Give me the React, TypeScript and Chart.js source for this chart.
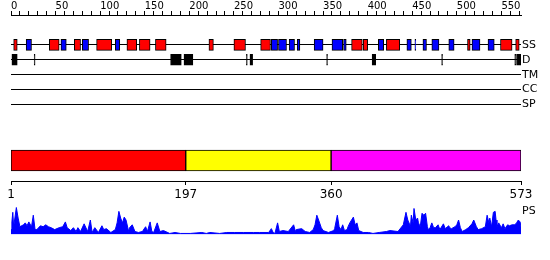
import React, { useEffect, useRef } from 'react';
import { Chart, registerables } from 'chart.js';

Chart.register(...registerables);

// ---- data ----
const SEQ_START = 1;
const SEQ_END = 573;
const RULER_MAX = 572;
const RULER_STEP = 10;
const RULER_LABEL_STEP = 50;
const TRACKS = ['SS', 'D', 'TM', 'CC', 'SP'];

// secondary structure: helices (red) and strands (blue), residue ranges
const HELIX: [number, number][] = [
  [3, 7], [43, 54], [71, 78], [96, 113], [130, 141], [144, 156], [162, 174],
  [222, 227], [250, 263], [280, 291], [382, 394], [395, 400], [421, 436],
  [512, 515], [549, 562], [566, 570],
];
const STRAND: [number, number][] = [
  [17, 23], [56, 62], [80, 87], [117, 122], [292, 299], [300, 309], [312, 318],
  [321, 324], [340, 350], [360, 372], [373, 376], [412, 418], [444, 449],
  [453, 454], [462, 466], [472, 480], [491, 497], [517, 526], [535, 542],
];
// disorder segments
const DISORDER: [number, number][] = [
  [1, 7], [26, 27], [179, 191], [194, 204], [264, 265], [268, 271],
  [354, 355], [405, 409], [483, 484], [565, 566], [567, 573],
];
// domains
const DOMAIN_TICKS = [1, 197, 360, 573];
const DOMAINS: [number, number][] = [[1, 197], [197, 360], [360, 573]];

// PS profile: [residue, score]
const PS_PROFILE: [number, number][] = [
  [1, 5], [2, 13], [3, 23], [4, 8], [7, 28], [9, 17], [11, 8], [15, 10], [17, 12], [19, 9],
  [21, 13], [24, 8], [26, 20], [28, 5], [30, 5], [34, 9], [37, 8], [40, 10], [43, 8], [46, 7],
  [50, 5], [55, 7], [59, 8], [62, 13], [64, 7], [68, 4], [71, 7], [74, 3], [76, 7], [79, 3],
  [83, 11], [87, 3], [90, 15], [92, 2], [95, 7], [99, 2], [103, 9], [105, 5], [108, 6], [113, 2],
  [118, 5], [120, 12], [122, 24], [124, 17], [126, 12], [128, 18], [130, 15], [133, 3], [134, 7],
  [137, 10], [140, 3], [144, 2], [148, 3], [149, 4], [152, 8], [154, 3], [157, 13], [159, 3],
  [161, 2], [165, 12], [168, 3], [172, 4], [179, 1], [185, 2], [191, 1], [202, 1], [215, 2],
  [220, 1], [224, 2], [235, 1], [243, 2], [252, 2], [262, 2], [273, 2], [280, 2], [290, 2],
  [293, 6], [295, 2], [297, 1], [300, 12], [302, 3], [306, 4], [312, 3], [318, 10], [320, 3],
  [321, 5], [327, 6], [331, 3], [336, 2], [340, 5], [342, 10], [344, 20], [346, 15], [349, 7],
  [351, 4], [357, 2], [363, 4], [364, 6], [367, 20], [369, 8], [371, 5], [373, 10], [375, 4],
  [378, 5], [379, 8], [381, 12], [385, 18], [387, 10], [389, 12], [391, 4], [396, 2], [402, 2],
  [407, 1], [414, 2], [422, 3], [426, 4], [435, 3], [441, 10], [444, 23], [446, 15], [447, 13],
  [449, 8], [450, 20], [452, 12], [453, 27], [455, 15], [457, 17], [458, 12], [460, 8], [462, 22],
  [464, 20], [466, 22], [468, 8], [469, 5], [471, 7], [473, 12], [475, 7], [477, 7], [480, 10],
  [482, 5], [486, 11], [488, 6], [492, 9], [493, 7], [495, 6], [499, 8], [501, 10], [503, 15],
  [505, 7], [507, 3], [511, 5], [514, 7], [518, 11], [520, 15], [523, 8], [525, 5], [529, 6],
  [533, 8], [535, 20], [537, 12], [538, 17], [540, 8], [542, 23], [544, 24], [545, 15], [546, 8],
  [548, 12], [551, 7], [553, 11], [555, 6], [558, 10], [560, 9], [563, 10], [566, 10], [568, 12],
  [570, 15], [572, 13], [573, 8],
];
const PS_MAX = 30;
const PS_LABEL = 'PS';
const PS_LABEL_AT = 24;

const FONT = "'DejaVu Sans', sans-serif";

export default function App() {
  const refA = useRef<HTMLCanvasElement>(null);
  const refB = useRef<HTMLCanvasElement>(null);
  const refC = useRef<HTMLCanvasElement>(null);

  useEffect(() => {
    document.body.style.margin = '0';
    Chart.defaults.font.family = FONT;
    Chart.defaults.color = '#000';
    const base: any = {
      responsive: false,
      animation: false,
      devicePixelRatio: 1,
      events: [],
      plugins: { legend: { display: false }, tooltip: { enabled: false } },
    };
    const rulerTicks: number[] = [];
    for (let v = 0; v <= RULER_MAX; v += RULER_STEP) rulerTicks.push(v);

    const boxSet = (ranges: [number, number][], track: number, color: string) => ({
      data: ranges.map(([s, e]) => ({ x: [s, e], y: track })),
      backgroundColor: color,
      borderColor: '#000',
      borderWidth: 1,
      borderSkipped: false,
      barThickness: 11,
      grouped: false,
    });

    const a = new Chart(refA.current!, {
      type: 'bar',
      data: {
        datasets: [
          boxSet(HELIX, 0, '#ff0000'),
          boxSet(STRAND, 0, '#0000ff'),
          boxSet(DISORDER, 1, '#000000'),
        ] as any,
      },
      options: {
        ...base,
        indexAxis: 'y',
        layout: { padding: { left: 11, right: 0, top: 0, bottom: 7 } },
        scales: {
          x: {
            type: 'linear',
            position: 'top',
            min: 0,
            max: RULER_MAX,
            offset: false,
            afterFit: (s: any) => { s.height = 15; },
            afterBuildTicks: (s: any) => { s.ticks = rulerTicks.map((v) => ({ value: v })); },
            ticks: {
              autoSkip: false,
              maxRotation: 0,
              align: 'start',
              padding: 0,
              font: { size: 10, lineHeight: 1 },
              callback: (v: any) => (Number(v) % RULER_LABEL_STEP === 0 ? String(v) : ''),
            },
            grid: { display: true, offset: false, drawOnChartArea: false, drawTicks: true, tickLength: 4, color: '#000' },
            border: { display: true, color: '#000' },
          },
          y: {
            type: 'linear',
            position: 'right',
            reverse: true,
            offset: false,
            min: -2,
            max: 4.53,
            afterFit: (s: any) => { s.width = 29; },
            afterBuildTicks: (s: any) => { s.ticks = TRACKS.map((_, i) => ({ value: i })); },
            ticks: {
              padding: 1,
              font: { size: 11 },
              callback: (v: any) => TRACKS[Number(v)] ?? '',
            },
            grid: { display: true, offset: false, drawOnChartArea: true, drawTicks: false, color: '#000' },
            border: { display: false },
          },
        },
      } as any,
    });

    const domainColors = ['#ff0000', '#ffff00', '#ff00ff'];
    const b = new Chart(refB.current!, {
      type: 'bar',
      data: {
        labels: ['domains'],
        datasets: DOMAINS.map((d, i) => ({
          data: [d],
          backgroundColor: domainColors[i],
          borderColor: '#000',
          borderWidth: 1,
          borderSkipped: false,
          barThickness: 21,
          grouped: false,
        })) as any,
      },
      options: {
        ...base,
        indexAxis: 'y',
        layout: { padding: { left: 11, right: 29, top: 0, bottom: 0 } },
        scales: {
          x: {
            type: 'linear',
            position: 'bottom',
            min: SEQ_START,
            max: SEQ_END,
            afterFit: (s: any) => { s.height = 24; },
            afterBuildTicks: (s: any) => { s.ticks = DOMAIN_TICKS.map((v) => ({ value: v })); },
            ticks: {
              autoSkip: false,
              maxRotation: 0,
              padding: 3,
              font: { size: 12 },
              callback: (v: any) => String(v),
            },
            grid: { display: true, drawOnChartArea: false, drawTicks: true, tickLength: 4, color: '#000' },
            border: { display: true, color: '#000' },
          },
          y: { type: 'category', display: false },
        },
      } as any,
    });

    const c = new Chart(refC.current!, {
      type: 'line',
      data: {
        datasets: [{
          data: PS_PROFILE.map(([x, y]) => ({ x, y })),
          borderColor: '#0000ff',
          backgroundColor: '#0000ff',
          borderWidth: 1,
          pointRadius: 0,
          fill: 'origin',
          tension: 0,
        }] as any,
      },
      options: {
        ...base,
        layout: { padding: { left: 11, right: 0, top: 7, bottom: 7 } },
        scales: {
          x: { type: 'linear', display: false, min: SEQ_START, max: SEQ_END },
          y: {
            type: 'linear',
            position: 'right',
            min: 0,
            max: PS_MAX,
            afterFit: (s: any) => { s.width = 29; },
            afterBuildTicks: (s: any) => { s.ticks = [{ value: PS_LABEL_AT }]; },
            ticks: { padding: 1, font: { size: 11 }, callback: () => PS_LABEL },
            grid: { display: false, drawTicks: false },
            border: { display: false },
          },
        },
      } as any,
    });

    return () => { a.destroy(); b.destroy(); c.destroy(); };
  }, []);

  return (
    <div style={{ position: 'relative', width: 550, height: 260, background: '#fff' }}>
      <canvas ref={refA} width={550} height={120} style={{ position: 'absolute', left: 0, top: 0 }} />
      <canvas ref={refB} width={550} height={65} style={{ position: 'absolute', left: 0, top: 140 }} />
      <canvas ref={refC} width={550} height={44} style={{ position: 'absolute', left: 0, top: 198 }} />
    </div>
  );
}
